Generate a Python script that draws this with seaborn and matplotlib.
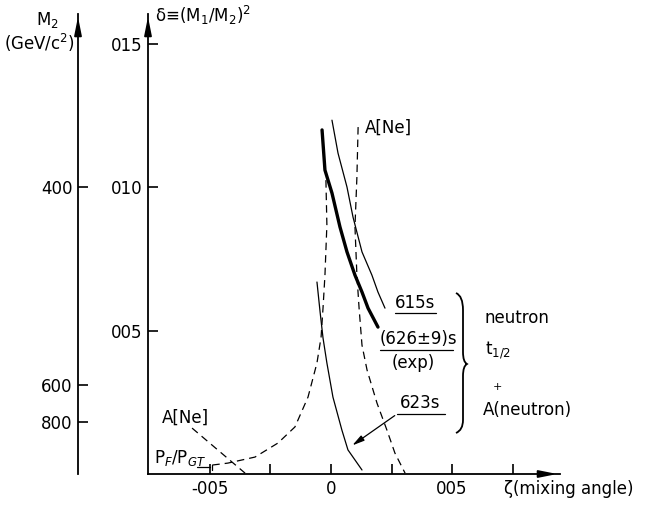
import numpy as np
import seaborn as sns
import matplotlib.pyplot as plt
from matplotlib.lines import Line2D
from matplotlib.path import Path
from matplotlib.patches import PathPatch

# curves (zeta = mixing angle, delta = (M1/M2)^2)
zeta_exp = [-0.0037, -0.0025, 0.0004, 0.0037, 0.0066, 0.0099, 0.0128, 0.0153, 0.0194]
delta_exp = [0.1199, 0.1059, 0.0979, 0.0861, 0.0774, 0.0693, 0.0634, 0.0578, 0.0512]

zeta_615 = [0.0004, 0.0029, 0.0066, 0.0091, 0.0128, 0.0169, 0.0194, 0.0223]
delta_615 = [0.1233, 0.1118, 0.1000, 0.0895, 0.0774, 0.0693, 0.0634, 0.0578]

zeta_623 = [-0.0058, -0.0045, -0.0033, -0.0017, 0.0008, 0.0045, 0.0070, 0.0128]
delta_623 = [0.0669, 0.0564, 0.0474, 0.0387, 0.0268, 0.0153, 0.0084, 0.0014]

zeta_ane = [0.0112, 0.0107, 0.0099, 0.0107, 0.0116, 0.0128, 0.0149, 0.0190, 0.0231, 0.0264, 0.0306]
delta_ane = [0.1209, 0.1035, 0.0861, 0.0693, 0.0578, 0.0449, 0.0362, 0.0247, 0.0153, 0.0073, 0.0003]

zeta_pf = [-0.0021, -0.0017, -0.0025, -0.0033, -0.0041, -0.0058, -0.0095, -0.0149,
           -0.0219, -0.0314, -0.0426, -0.0492]
delta_pf = [0.1024, 0.0868, 0.0693, 0.0578, 0.0477, 0.0387, 0.0268, 0.0164,
            0.0108, 0.0059, 0.0038, 0.0031]

zeta_ane2 = [-0.0574, -0.0355]
delta_ane2 = [0.0160, 0.0003]

# axis ticks
x_ticks = [-0.05, -0.025, 0.0, 0.025, 0.05, 0.075]
x_labels = ["-005", "", "0", "", "005", ""]
y_ticks = [0.05, 0.10, 0.15]
y_labels = ["005", "010", "015"]
m2_pos = [0.100, 0.031, 0.018]
m2_labels = ["400", "600", "800"]

sns.set_style("ticks")
plt.rcParams["font.family"] = ["DejaVu Sans"]
plt.rcParams["font.size"] = 12
for key in ["text.color", "axes.labelcolor", "xtick.color", "ytick.color", "axes.edgecolor"]:
    plt.rcParams[key] = "black"

W, H = 646, 508
fig = plt.figure(figsize=(W / 100, H / 100), dpi=100)


def fpx(x, y):
    return x / W, 1 - y / H


ax = fig.add_axes([148 / W, 34 / H, 412 / W, 460 / H])
ax.set_xlim(-0.0756, 0.0946)
ax.set_ylim(0, 0.1603)

k = dict(ax=ax, color="black", sort=False, estimator=None, legend=False)
sns.lineplot(x=zeta_exp, y=delta_exp, lw=2.4, **k)
sns.lineplot(x=zeta_615, y=delta_615, lw=0.9, **k)
sns.lineplot(x=zeta_623, y=delta_623, lw=0.9, **k)
sns.lineplot(x=zeta_ane, y=delta_ane, lw=0.9, linestyle=(0, (6, 4)), **k)
sns.lineplot(x=zeta_pf, y=delta_pf, lw=0.9, linestyle=(0, (6, 4)), **k)
sns.lineplot(x=zeta_ane2, y=delta_ane2, lw=0.9, linestyle=(0, (6, 4)), **k)

sns.despine(ax=ax)
for s in ["left", "bottom"]:
    ax.spines[s].set_linewidth(1.3)
ax.set_xticks(x_ticks, x_labels)
ax.set_yticks(y_ticks, y_labels)
ax.tick_params(direction="in", length=7, width=1.2, labelsize=12, pad=4)
ax.set_xlabel("")
ax.set_ylabel("")

arr = dict(arrowstyle="-|>,head_length=0.9,head_width=0.18", color="black", lw=1.3)
ax.annotate("", xy=(0, 1.0), xytext=(0, 0.95), xycoords="axes fraction", arrowprops=arr)
ax.annotate("", xy=(1.0, 0), xytext=(0.95, 0), xycoords="axes fraction", arrowprops=arr)

# M2 axis
ax2 = fig.add_axes([78 / W, 34 / H, 0.001, 460 / H])
ax2.set_ylim(ax.get_ylim())
ax2.set_xticks([])
ax2.set_yticks(m2_pos, m2_labels)
for s in ["top", "right", "bottom"]:
    ax2.spines[s].set_visible(False)
ax2.spines["left"].set_linewidth(1.3)
ax2.patch.set_visible(False)
ax2.tick_params(axis="y", direction="in", length=7, width=1.2, labelsize=12, pad=4)
ax2.annotate("", xy=(0, 1.0), xytext=(0, 0.95), xycoords="axes fraction", arrowprops=arr)

# axis titles
fig.text(*fpx(155, 15), r"δ≡(M$_1$/M$_2$)$^2$", ha="left", va="center", fontsize=12)
fig.text(*fpx(47, 20), r"M$_2$", ha="center", va="center", fontsize=12)
fig.text(*fpx(39, 43), r"(GeV/c$^2$)", ha="center", va="center", fontsize=12)
fig.text(*fpx(504, 489), "ζ(mixing angle)", ha="left", va="center", fontsize=12)

# curve labels
fig.text(*fpx(365, 128), "A[Ne]", ha="left", va="center")
fig.text(*fpx(395, 303), "615s", ha="left", va="center")
fig.text(*fpx(380, 339), "(626±9)s", ha="left", va="center")
fig.text(*fpx(413, 363), "(exp)", ha="center", va="center")
fig.text(*fpx(400, 403), "623s", ha="left", va="center")
fig.text(*fpx(485, 318), "neutron", ha="left", va="center")
fig.text(*fpx(485, 350), r"t$_{1/2}$", ha="left", va="center")
fig.text(*fpx(497, 387), "+", ha="center", va="center", fontsize=8)
fig.text(*fpx(483, 410), "A(neutron)", ha="left", va="center")
fig.text(*fpx(162, 418), "A[Ne]", ha="left", va="center")
fig.text(*fpx(154, 458), r"P$_F$/P$_{GT}$", ha="left", va="center")

# underlines
for x0, x1, y in [(395, 436, 313), (380, 453, 350), (397, 445, 414), (197, 210, 467)]:
    (a0, b0), (a1, b1) = fpx(x0, y), fpx(x1, y)
    fig.add_artist(Line2D([a0, a1], [b0, b1], color="black", lw=0.9, transform=fig.transFigure))
(a0, b0), (a1, b1) = fpx(212, 465), fpx(212, 470)
fig.add_artist(Line2D([a0, a1], [b0, b1], color="black", lw=0.9, transform=fig.transFigure))

# leader arrow for 623s
ax.annotate("", xy=fpx(350, 447), xytext=fpx(397, 414), xycoords="figure fraction",
            arrowprops=dict(arrowstyle="-|>,head_length=0.6,head_width=0.15", color="black", lw=0.9))

# brace
pts = [(456, 293), (463, 296), (463, 310), (463, 352), (463, 362), (467, 364),
       (463, 366), (463, 376), (463, 420), (463, 430), (456, 433)]
codes = [Path.MOVETO, Path.CURVE3, Path.CURVE3, Path.LINETO, Path.CURVE3, Path.CURVE3,
         Path.CURVE3, Path.CURVE3, Path.LINETO, Path.CURVE3, Path.CURVE3]
brace = Path([fpx(x, y) for x, y in pts], codes)
fig.add_artist(PathPatch(brace, fill=False, lw=1.3, color="black", transform=fig.transFigure))

fig.savefig("out.png", dpi=100)
